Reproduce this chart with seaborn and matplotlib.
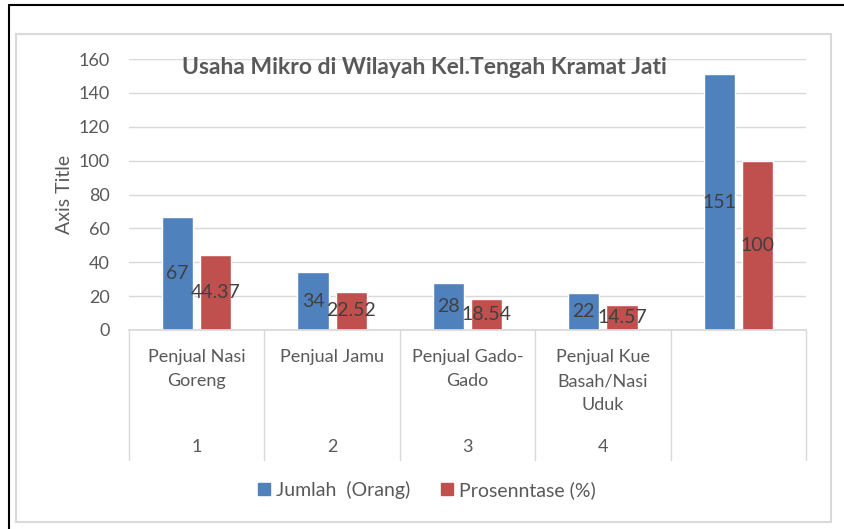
import matplotlib
matplotlib.use("Agg")
import matplotlib.pyplot as plt
import pandas as pd
import seaborn as sns
from matplotlib.lines import Line2D
from matplotlib.patches import Rectangle

sns.set_theme(style="white")
plt.rcParams["font.family"] = ["Lato", "DejaVu Sans"]

# data
categories = ["Penjual Nasi\nGoreng", "Penjual Jamu", "Penjual Gado-\nGado",
              "Penjual Kue\nBasah/Nasi\nUduk", " "]
numbers = ["1", "2", "3", "4", ""]
jumlah = [67, 34, 28, 22, 151]
prosentase = [44.37, 22.52, 18.54, 14.57, 100]
series = ["Jumlah  (Orang)", "Prosenntase (%)"]
colors = ["#4F81BD", "#C0504D"]

TXT = "#595959"
GRID = "#D9D9D9"

df = pd.DataFrame({
    "kategori": categories * 2,
    "nilai": jumlah + prosentase,
    "seri": [series[0]] * len(jumlah) + [series[1]] * len(prosentase),
})

fig = plt.figure(figsize=(8.44, 5.29), dpi=100)
ax = fig.add_axes([129 / 844, 1 - 330 / 529, (806 - 129) / 844, 271 / 529])

sns.barplot(data=df, x="kategori", y="nilai", hue="seri", order=categories,
            hue_order=series, palette=colors, width=0.563, gap=0.184,
            saturation=1, errorbar=None, legend=False, ax=ax)

for cont, vals in zip(ax.containers, [jumlah, prosentase]):
    ax.bar_label(cont, labels=[f"{v:g}" for v in vals], label_type="center",
                 fontsize=14, color="#404040")

ax.set_ylim(0, 160)
ax.set_yticks(range(0, 161, 20))
ax.set_xlim(-0.5, len(categories) - 0.5)
ax.yaxis.grid(True, color=GRID, lw=1)
ax.set_axisbelow(True)
for s in ["top", "right", "left"]:
    ax.spines[s].set_visible(False)
ax.spines["bottom"].set_color(GRID)
ax.tick_params(axis="y", length=0, labelsize=13, labelcolor=TXT, pad=14)
ax.tick_params(axis="x", length=0, labelsize=13, labelcolor=TXT, pad=14)
for lab in ax.get_xticklabels():
    lab.set_verticalalignment("top")
    lab.set_multialignment("center")
    lab.set_linespacing(1.6)
ax.set_xlabel("")
ax.set_ylabel("Axis Title", fontsize=14, color=TXT, labelpad=4)

# second level of category axis
for i, n in enumerate(numbers):
    ax.text(i, -0.432, n, transform=ax.get_xaxis_transform(), ha="center",
            va="center", fontsize=13, color=TXT)
for i in range(len(categories) + 1):
    ax.axvline(i - 0.5, ymin=-0.48, ymax=0, color=GRID, lw=1, clip_on=False)

fig.text(424 / 844, 1 - 68 / 529, "Usaha Mikro di Wilayah Kel.Tengah Kramat Jati",
         ha="center", va="center", fontsize=16.5, fontweight="bold", color=TXT)

handles = [Rectangle((0, 0), 1, 1, color=c) for c in colors]
fig.legend(handles, series, loc="center", bbox_to_anchor=(427 / 844, 1 - 490 / 529),
           ncol=2, frameon=False, fontsize=14, labelcolor=TXT,
           handlelength=0.6, handleheight=0.6, handletextpad=0.3, columnspacing=1.6)

# chart frames
fig.add_artist(Rectangle((16 / 844, 1 - 522 / 529), (831 - 16) / 844, (522 - 34) / 529,
                         transform=fig.transFigure, fill=False, ec=GRID, lw=1.5))
fig.add_artist(Line2D([9 / 844, 1], [1 - 5 / 529] * 2, transform=fig.transFigure,
                      color="black", lw=1.5))
fig.add_artist(Line2D([9 / 844] * 2, [0, 1 - 5 / 529], transform=fig.transFigure,
                      color="black", lw=1.5))

fig.savefig("out.png", dpi=100)
